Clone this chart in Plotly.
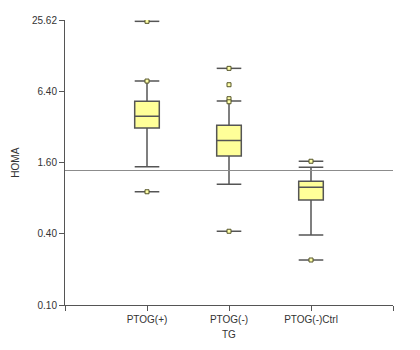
import plotly.graph_objects as go

# Groups and box statistics (HOMA, log scale)
groups = ["PTOG(+)", "PTOG(-)", "PTOG(-)Ctrl"]
positions = [1, 2, 3]
q1 = [3.13, 1.82, 0.77]
median = [3.93, 2.46, 0.99]
q3 = [5.26, 3.30, 1.11]
lower_whisker = [1.47, 1.05, 0.39]
upper_whisker = [7.81, 5.30, 1.46]

# Extreme values drawn as markers (group index, value)
outlier_group = [0, 0, 0, 1, 1, 1, 1, 1, 2, 2]
outlier_value = [24.96, 7.81, 0.906, 10.0, 7.27, 5.54, 5.22, 0.42, 1.64, 0.24]

# Values that carry a cap line through their marker
capped_group = [0, 0, 1, 1, 2, 2]
capped_value = [24.96, 0.906, 10.0, 0.42, 1.64, 0.24]

reference_level = 1.37

tick_vals = [0.10, 0.40, 1.60, 6.40, 25.62]
tick_text = ["0.10", "0.40", "1.60", "6.40", "25.62"]

box_width = 0.3
line_col = "#555555"
fill_col = "#FFFF99"
font = dict(family="Liberation Sans, Arial, sans-serif", size=10, color="#333333")

fig = go.Figure()

# Horizontal reference level
fig.add_trace(go.Scatter(
    x=[0, 4], y=[reference_level, reference_level], mode="lines",
    line=dict(color="#8c8c8c", width=1), hoverinfo="skip", showlegend=False,
))

fig.add_trace(go.Box(
    x=positions, q1=q1, median=median, q3=q3,
    lowerfence=lower_whisker, upperfence=upper_whisker,
    width=box_width, whiskerwidth=1, boxpoints=False,
    fillcolor=fill_col, line=dict(color=line_col, width=1.5),
    showlegend=False,
))

# Cap lines at the extreme values
cx, cy = [], []
for g, v in zip(capped_group, capped_value):
    p = positions[g]
    cx += [p - box_width / 2, p + box_width / 2, None]
    cy += [v, v, None]
fig.add_trace(go.Scatter(
    x=cx, y=cy, mode="lines", line=dict(color=line_col, width=1.5),
    hoverinfo="skip", showlegend=False,
))

fig.add_trace(go.Scatter(
    x=[positions[g] for g in outlier_group], y=outlier_value, mode="markers",
    marker=dict(symbol="square", size=4, color="#FFFFA8",
                line=dict(color="#55552a", width=1)),
    showlegend=False,
))

fig.update_layout(
    width=420, height=350,
    margin=dict(l=65, r=27, t=20, b=45),
    paper_bgcolor="white", plot_bgcolor="white",
    font=font,
    xaxis=dict(
        range=[0, 4], tickvals=[0, 1, 2, 3, 4], ticktext=[""] + groups + [""],
        showgrid=False, zeroline=False, showline=True, linecolor=line_col, linewidth=1,
        ticks="outside", ticklen=5, tickcolor=line_col, tickfont=font,
    ),
    yaxis=dict(
        type="log", range=[-1, 1.40858], tickvals=tick_vals, ticktext=tick_text,
        showgrid=False, zeroline=False, showline=True, linecolor=line_col, linewidth=1,
        ticks="outside", ticklen=5, tickcolor=line_col, tickfont=font,
    ),
    annotations=[
        dict(text="HOMA", xref="paper", yref="paper", x=-0.152, y=0.5,
             xanchor="center", yanchor="middle",
             textangle=-90, showarrow=False, font=font),
        dict(text="TG", xref="paper", yref="paper", x=0.5, y=-0.105,
             xanchor="center", yanchor="middle",
             showarrow=False, font=font),
    ],
)

fig.write_html("out.html")
